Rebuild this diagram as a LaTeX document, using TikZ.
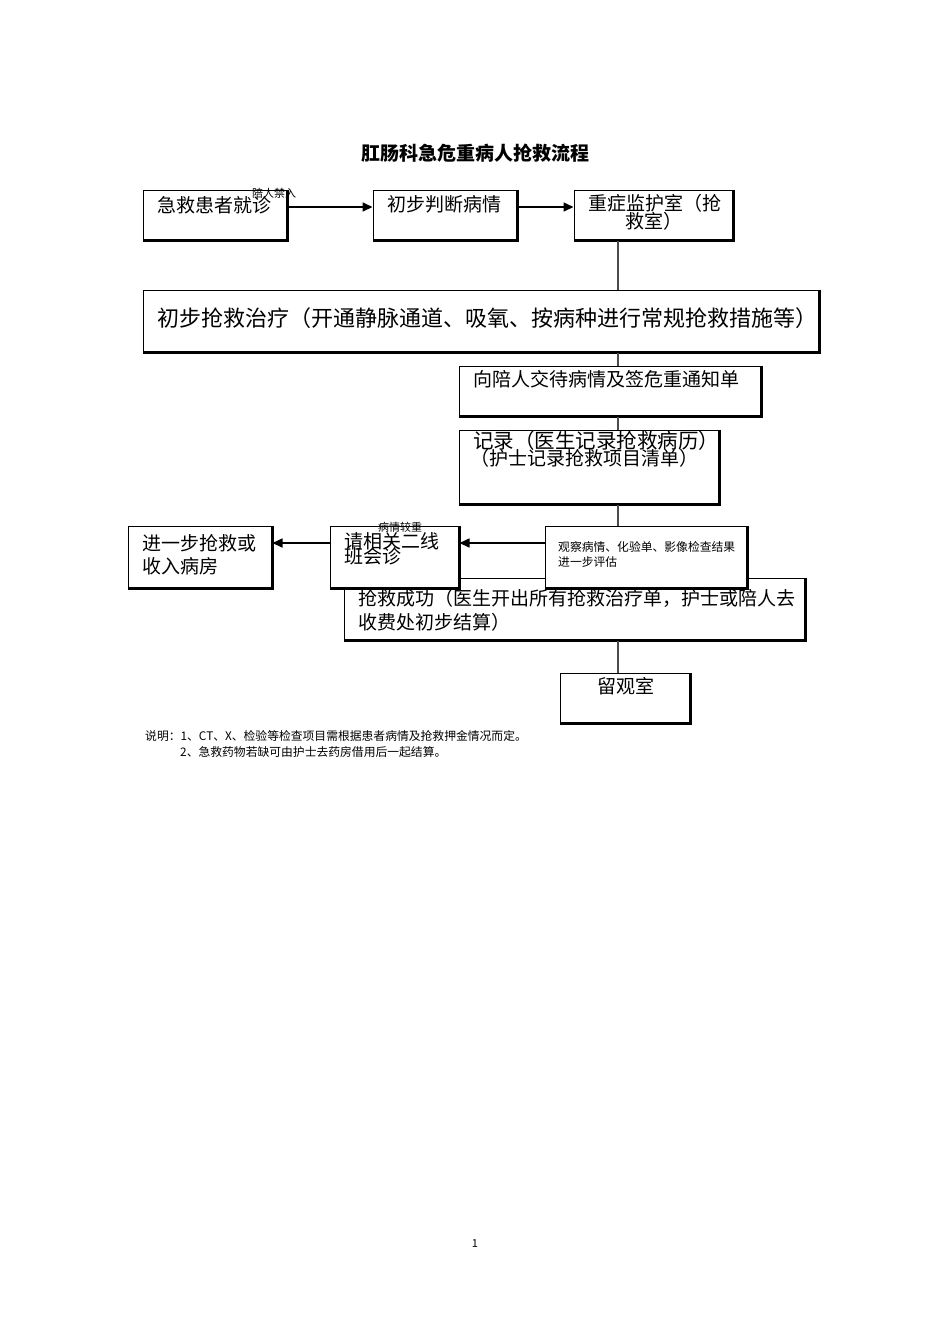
\documentclass[tikz,border=0pt]{standalone}
\usepackage{fontspec}
\newfontfamily\cjk{Noto Sans CJK SC}
\usetikzlibrary{arrows.meta}
\tikzset{
  boxn/.style={draw=black, line width=1pt, rectangle, inner sep=0pt, fill=white},
  txt/.style={anchor=west, inner sep=0pt, font=\cjk\fontsize{19}{20}\selectfont},
  small/.style={anchor=west, inner sep=0pt, font=\cjk\fontsize{11}{12}\selectfont},
  conn/.style={line width=1.8pt, draw=black!70},
  arr/.style={line width=1.6pt, -{Triangle[length=10pt,width=9pt]}},
  thick edge/.style={line width=2.2pt}
}
\newcommand{\mybox}[5]{% name, x1, y1, x2, y2
  \node[boxn, minimum width={#4-#2}, minimum height={#5-#3}] (#1) at ({(#2+#4)/2},{(#3+#5)/2}) {};
}
\newcommand{\myedge}[1]{\draw[thick edge] (#1.north east) -- (#1.south east) -- (#1.south west);}
\begin{document}
\begin{tikzpicture}[x=1pt,y=-1pt]
\useasboundingbox (0,0) rectangle (950,1344);
\coordinate (spine) at (618,0);

% title
\node[inner sep=0pt, font=\cjk\bfseries\fontsize{19}{20}\selectfont] (title) at (475,153) {肛肠科急危重病人抢救流程};

% row 1
\mybox{b1}{143}{190}{287}{240}\myedge{b1}
\mybox{b2}{373}{190}{517}{240}\myedge{b2}
\mybox{b3}{574}{190}{733}{240}\myedge{b3}
\node[txt] (t1) at (157,205) {急救患者就诊};
\node[txt] (t2) at (387,204) {初步判断病情};
\node[txt] (t3a) at (588,203) {重症监护室（抢};
\node[txt] (t3b) at (625,221) {救室）};
\node[small] (lbl1) at (252,193) {陪人禁入};
\draw[arr] (b1.east |- 0,207) -- (b2.west |- 0,207);
\draw[arr] (b2.east |- 0,207) -- (b3.west |- 0,207);

% big box
\mybox{b4}{143}{290}{819}{352}\myedge{b4}
\node[txt, font=\cjk\fontsize{22}{24}\selectfont] (t4) at (157,318) {初步抢救治疗（开通静脉通道、吸氧、按病种进行常规抢救措施等）};
\draw[conn] (b3.south -| spine) -- (b4.north -| spine);

% notify
\mybox{b5}{459}{366}{761}{416}\myedge{b5}
\node[txt] (t5) at (473,379) {向陪人交待病情及签危重通知单};
\draw[conn] (b4.south -| spine) -- (b5.north -| spine);

% record
\mybox{b6}{459}{430}{719}{504}\myedge{b6}
\node[txt, font=\cjk\fontsize{20.5}{22}\selectfont] (t6a) at (473,441) {记录（医生记录抢救病历）};
\node[txt] (t6b) at (470,458) {（护士记录抢救项目清单）};
\draw[conn] (b5.south -| spine) -- (b6.north -| spine);

% success box (behind)
\mybox{b10}{344}{578}{805}{640}\myedge{b10}
\node[txt] (t10a) at (358,598) {抢救成功（医生开出所有抢救治疗单，护士或陪人去};
\node[txt] (t10b) at (358,622) {收费处初步结算）};

% observe box
\mybox{b7}{545}{526}{747}{588}\myedge{b7}
\node[small, font=\cjk\fontsize{11.8}{13}\selectfont] (t7a) at (558,547) {观察病情、化验单、影像检查结果};
\node[small, font=\cjk\fontsize{11.8}{13}\selectfont] (t7b) at (558,562) {进一步评估};
\draw[conn] (b6.south -| spine) -- (b7.north -| spine);

% consult box
\mybox{b8}{330}{526}{459}{588}\myedge{b8}
\node[txt] (t8a) at (344,541) {请相关二线};
\node[txt] (t8b) at (344,556) {班会诊};
\node[small] (lbl2) at (378,527) {病情较重};

% further box
\mybox{b9}{128}{526}{272}{588}\myedge{b9}
\node[txt] (t9a) at (142,543) {进一步抢救或};
\node[txt] (t9b) at (142,566) {收入病房};

\draw[arr] (b7.west |- 0,543) -- (b8.east |- 0,543);
\draw[arr] (b8.west |- 0,543) -- (b9.east |- 0,543);

% observation room
\mybox{b11}{560}{673}{690}{723}\myedge{b11}
\node[txt] (t11) at (597,686) {留观室};
\draw[conn] (b10.south -| spine) -- (b11.north -| spine);

% notes
\node[small, font=\cjk\fontsize{11.8}{13}\selectfont] (n1) at (145,736) {说明：1、CT、X、检验等检查项目需根据患者病情及抢救押金情况而定。};
\node[small, font=\cjk\fontsize{11.8}{13}\selectfont] (n2) at (180,752) {2、急救药物若缺可由护士去药房借用后一起结算。};

% page number
\node[inner sep=0pt, font=\cjk\fontsize{11}{12}\selectfont] (pg) at (475,1244) {1};
\end{tikzpicture}
\end{document}
